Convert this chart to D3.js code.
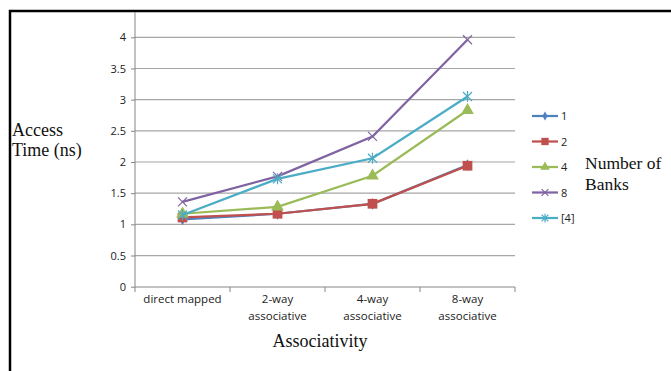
<!DOCTYPE html>
<html><head><meta charset="utf-8">
<script src="https://cdn.jsdelivr.net/npm/d3@7"></script>
<style>body{margin:0;background:#fff}svg{display:block}</style>
</head><body><svg id="c" width="671" height="371"></svg>
<script>
const categories = ["direct mapped", "2-way\nassociative", "4-way\nassociative", "8-way\nassociative"];
const seriesNames = ["1", "2", "4", "8", "[4]"];
const s1 = [1.08, 1.17, 1.33, 1.95];
const s2 = [1.11, 1.17, 1.33, 1.94];
const s4 = [1.17, 1.28, 1.78, 2.83];
const s8 = [1.36, 1.77, 2.41, 3.96];
const s4b = [1.15, 1.73, 2.06, 3.05];
const yTicks = [0, 0.5, 1, 1.5, 2, 2.5, 3, 3.5, 4];
const colors = ["#4F81BD", "#C0504D", "#9BBB59", "#8064A2", "#4BACC6"];
const markers = ["diamond", "square", "triangle", "x", "star"];
const allSeries = [s1, s2, s4, s8, s4b];

const svg = d3.select("#c");
const tickFont = "'Open Sans', sans-serif";
// frame
svg.append("path").attr("d","M10,371 V11 H671").attr("fill","none").attr("stroke","#000").attr("stroke-width",2.5);

const x = d3.scaleBand().domain(categories).range([135, 515]);
const y = d3.scaleLinear().domain([0, 4]).range([286.7, 37.3]);

// gridlines
svg.append("g").selectAll("line").data(yTicks.slice(1)).join("line")
  .attr("x1",135).attr("x2",515).attr("y1",d=>y(d)).attr("y2",d=>y(d))
  .attr("stroke","#a6a6a6").attr("stroke-width",1.2);

// y axis
const ya = svg.append("g").attr("transform","translate(135,0)")
  .call(d3.axisLeft(y).tickValues(yTicks).tickSize(4).tickFormat(d=>d));
ya.select(".domain").remove();
ya.selectAll(".tick line").attr("stroke","#868686");
ya.selectAll("text").attr("font-family",tickFont).attr("font-size",11).attr("fill","#222").attr("x",-9);
svg.append("line").attr("x1",135).attr("x2",135).attr("y1",12).attr("y2",287).attr("stroke","#868686");

// x axis
const xa = svg.append("g").attr("transform","translate(0,287)")
  .call(d3.axisBottom(x).tickSize(5).tickFormat(""));
xa.select(".domain").attr("stroke","#868686").attr("d","M135,0H515");
xa.selectAll(".tick line").attr("stroke","#868686").attr("transform",function(){return "translate("+(x.bandwidth()/2)+",0)";});
svg.append("line").attr("x1",135).attr("x2",135).attr("y1",287).attr("y2",292).attr("stroke","#868686");
xa.selectAll(".tick").each(function(d){
  const lines = d.split("\n");
  const t = d3.select(this).append("text").attr("text-anchor","middle").attr("y",16)
    .attr("font-family",tickFont).attr("font-size",11.5).attr("fill","#222");
  lines.forEach((l,i)=>t.append("tspan").attr("x",0).attr("dy",i?17:0).text(l));
});

// lines
const line = d3.line().x((d,i)=>x(categories[i])+x.bandwidth()/2).y(d=>y(d));
function drawMarker(g, type, color, cx, cy, scale){
  scale = scale||1;
  if(type==="x"){
    const r=4.5*scale;
    g.append("path").attr("d",`M${cx-r},${cy-r}L${cx+r},${cy+r}M${cx-r},${cy+r}L${cx+r},${cy-r}`).attr("stroke",color).attr("stroke-width",1.2).attr("fill","none");
  } else if(type==="star"){
    const r=4.5*scale;
    g.append("path").attr("d",`M${cx-r},${cy-r}L${cx+r},${cy+r}M${cx-r},${cy+r}L${cx+r},${cy-r}M${cx},${cy-r-1}L${cx},${cy+r+1}`).attr("stroke",color).attr("stroke-width",1.2).attr("fill","none");
  } else {
    const s = d3.symbol().type(type==="diamond"?d3.symbolDiamond:type==="square"?d3.symbolSquare:d3.symbolTriangle)
      .size((type==="diamond"?40:type==="square"?95:70)*scale*scale);
    g.append("path").attr("d",s()).attr("transform",`translate(${cx},${cy})`).attr("fill",color);
  }
}
allSeries.forEach((vals,si)=>{
  const g = svg.append("g");
  g.append("path").attr("d",line(vals)).attr("fill","none").attr("stroke",colors[si]).attr("stroke-width",2.25);
  vals.forEach((v,i)=>drawMarker(g, markers[si], colors[si], x(categories[i])+x.bandwidth()/2, y(v)));
});

// legend
const lg = svg.append("g");
seriesNames.forEach((n,i)=>{
  const yy = 116 + i*25.5;
  lg.append("line").attr("x1",532).attr("x2",558).attr("y1",yy).attr("y2",yy).attr("stroke",colors[i]).attr("stroke-width",2.25);
  drawMarker(lg, markers[i], colors[i], 545, yy, 0.75);
  lg.append("text").attr("x",561).attr("y",yy+4).text(n)
    .attr("font-family",tickFont).attr("font-size",11).attr("fill","#222");
});

// titles
const serif = "'Liberation Serif', 'Times New Roman', serif";
svg.append("text").attr("x",585).attr("y",169).text("Number of").attr("font-family",serif).attr("font-size",17.5).attr("fill","#111");
svg.append("text").attr("x",585).attr("y",190).text("Banks").attr("font-family",serif).attr("font-size",17.5).attr("fill","#111");
svg.append("text").attr("x",12).attr("y",136).text("Access").attr("font-family",serif).attr("font-size",18).attr("fill","#111");
svg.append("text").attr("x",12).attr("y",156).text("Time (ns)").attr("font-family",serif).attr("font-size",18).attr("fill","#111");
svg.append("text").attr("x",320).attr("y",347).attr("text-anchor","middle").text("Associativity").attr("font-family",serif).attr("font-size",18).attr("fill","#111");
</script></body></html>
